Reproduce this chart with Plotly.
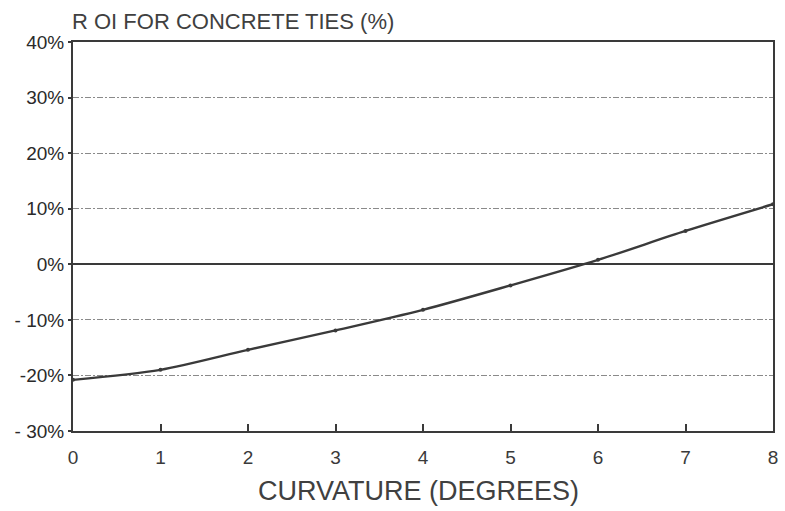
import plotly.graph_objects as go

# Return on investment for concrete ties vs. track curvature
curvature_deg = [0, 1, 2, 3, 4, 5, 6, 7, 8]
roi_pct = [-20.8, -19.0, -15.4, -11.9, -8.2, -3.8, 0.8, 6.0, 10.8]

y_ticks = [40, 30, 20, 10, 0, -10, -20, -30]
y_tick_labels = ["40%", "30%", "20%", "10%", "0%", "- 10%", "-20%", "- 30%"]
x_ticks = [0, 1, 2, 3, 4, 5, 6, 7, 8]

ink = "#3a3a3a"
font_family = "Liberation Sans, Arial, sans-serif"

fig = go.Figure()
fig.add_trace(go.Scatter(
    x=curvature_deg,
    y=roi_pct,
    mode="lines+markers",
    line=dict(color=ink, width=2.4, shape="spline", smoothing=0.8),
    marker=dict(color=ink, size=4),
    hoverinfo="x+y",
    showlegend=False,
))

fig.update_layout(
    width=785,
    height=511,
    margin=dict(l=73, r=7, t=42, b=80),
    paper_bgcolor="white",
    plot_bgcolor="white",
    font=dict(family=font_family, color=ink),
    title=dict(
        text="R OI FOR CONCRETE TIES (%)",
        x=72 / 785, xanchor="left", xref="container",
        y=1 - 21 / 511, yanchor="middle", yref="container",
        font=dict(size=22, color="#404040"),
    ),
    annotations=[dict(
        text="CURVATURE (DEGREES)",
        xref="paper", yref="paper",
        x=(421 - 73) / 705, y=(431 - 491) / 389,
        xanchor="center", yanchor="middle",
        showarrow=False,
        font=dict(size=27, color="#404040"),
    )],
)

fig.update_xaxes(
    range=[0, 8],
    tickvals=x_ticks,
    ticks="inside", ticklen=7, tickwidth=1.5, tickcolor=ink,
    tickfont=dict(size=19, color=ink),
    ticklabelstandoff=8,
    showgrid=False,
    zeroline=False,
    showline=True, linecolor=ink, linewidth=2, mirror=True,
)

fig.update_yaxes(
    range=[-30, 40],
    tickvals=y_ticks,
    ticktext=y_tick_labels,
    ticks="outside", ticklen=3, tickwidth=1.5, tickcolor=ink,
    tickfont=dict(size=19, color="#2a2a2a"),
    showgrid=True, gridcolor="#8a8a8a", gridwidth=1,
    griddash="6px,2px,2px,2px",
    zeroline=True, zerolinecolor=ink, zerolinewidth=2,
    showline=True, linecolor=ink, linewidth=2, mirror=True,
)

fig.write_html("out.html")
